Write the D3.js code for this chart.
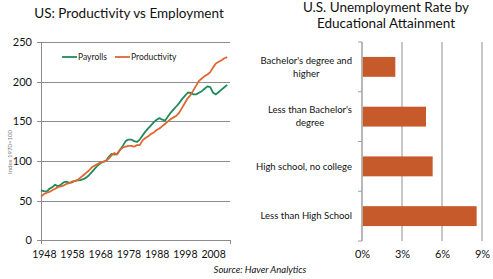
<!DOCTYPE html>
<html><head><meta charset="utf-8">
<script src="https://cdn.jsdelivr.net/npm/d3@7"></script>
<style>
html,body{margin:0;padding:0;background:#fff;}
svg{display:block;font-family:Lato,"Open Sans",sans-serif;}
</style></head>
<body>
<svg id="c" width="493" height="279"></svg>
<script>
// ---- Data: left chart ----
const years = d3.range(1947, 2014);
const payrolls = [63,62,61.5,65,67,70,68,70,73,74,72.5,73,75,75.5,76,77,79,82,86,90,94,97,99,100,105,109,108,109,114,119,125,127,127,125,124,127,132,137,141,145,149,152,154,152,151,156,161,165,169,173,178,182,186,186,184,184,186,188,191,194,193,186,184,187,190,193,196];
const productivity = [55,58,60,61,63,65,67,68,69,71,72,74,75,76,79,82,85,88,92,94,96,98,99,100,103,107,110,108,114,117,118,119,119,118,120,120,126,129,131,134,136,139,141,144,147,150,153,155,157,161,167,173,179,183,189,195,201,204,207,209,212,218,223,225,227,229.5,231];
const yTicks = [0,50,100,150,200,250];
const xTickYears = [1948,1958,1968,1978,1988,1998,2008];
const seriesNames = ["Payrolls","Productivity"];
const seriesColors = ["#1f8a5b","#e0662f"];

// ---- Data: right chart ----
const categories = [["Bachelor's degree and","higher"],["Less than Bachelor's","degree"],["High school, no college"],["Less than High School"]];
const rates = [2.5, 4.8, 5.3, 8.6];
const rateTicks = [0,3,6,9];

const svg = d3.select("#c");

// ===== Left chart =====
svg.append("text").attr("x",129).attr("y",17.5).attr("text-anchor","middle")
  .attr("font-size",13.5).attr("fill","#111").text("US: Productivity vs Employment");

const x = d3.scaleLinear().domain([1947,2014]).range([41,230]);
const y = d3.scaleLinear().domain([0,250]).range([240.3,42]);

const gl = svg.append("g");
gl.selectAll("line.grid").data(yTicks).join("line")
  .attr("x1",37).attr("x2",230).attr("y1",d=>Math.round(y(d))+0.5).attr("y2",d=>Math.round(y(d))+0.5)
  .attr("stroke","#8c8c8c").attr("stroke-width",1);
gl.append("line").attr("x1",41.5).attr("x2",41.5).attr("y1",42).attr("y2",244).attr("stroke","#8c8c8c");
gl.append("line").attr("x1",230.5).attr("x2",230.5).attr("y1",240).attr("y2",244).attr("stroke","#8c8c8c");

const yAxis = d3.axisLeft(y).tickValues(yTicks).tickSize(0).tickPadding(0);
const ya = svg.append("g").attr("transform","translate(32,0)").call(yAxis);
ya.select(".domain").remove();
ya.selectAll("text").attr("font-size",11).attr("fill","#111").attr("font-family","Lato,sans-serif");

const xAxis = d3.axisBottom(x).tickValues(xTickYears).tickFormat(d3.format("d")).tickSize(0).tickPadding(0);
const xa = svg.append("g").attr("transform","translate(0,251)").call(xAxis);
xa.select(".domain").remove();
xa.selectAll("text").attr("font-size",10.5).attr("fill","#111").attr("font-family","Lato,sans-serif");

svg.append("text").attr("transform","translate(11.5,152) rotate(-90)").attr("text-anchor","middle")
  .attr("font-size",6).attr("fill","#777").text("Index 1970=100");

const line = d3.line().x((d,i)=>x(years[i])).y(d=>y(d));
[payrolls, productivity].forEach((s,k)=>{
  svg.append("path").datum(s).attr("d",line).attr("fill","none")
    .attr("stroke",seriesColors[k]).attr("stroke-width",1.8).attr("stroke-linejoin","round");
});

// legend
const legX = [62,115];
seriesNames.forEach((n,k)=>{
  svg.append("line").attr("x1",legX[k]).attr("x2",legX[k]+15).attr("y1",57).attr("y2",57)
    .attr("stroke",seriesColors[k]).attr("stroke-width",1.8);
  svg.append("text").attr("x",legX[k]+16).attr("y",60).attr("font-size",8.5).attr("fill","#222").text(n);
});

svg.append("text").attr("x",260).attr("y",273).attr("text-anchor","middle")
  .attr("font-size",9.5).attr("font-style","italic").attr("fill","#111").text("Source: Haver Analytics");

// ===== Right chart =====
svg.append("text").attr("x",386).attr("y",12).attr("text-anchor","middle")
  .attr("font-size",13.5).attr("fill","#111").text("U.S. Unemployment Rate by");
svg.append("text").attr("x",386).attr("y",28).attr("text-anchor","middle")
  .attr("font-size",13.5).attr("fill","#111").text("Educational Attainment");

const xr = d3.scaleLinear().domain([0,9]).range([362,482]);
const yr = d3.scaleBand().domain(d3.range(categories.length)).range([42,241]).paddingInner(0.6).paddingOuter(0.3);

const gr = svg.append("g");
gr.selectAll("line.vg").data(rateTicks.slice(1)).join("line")
  .attr("x1",d=>xr(d)).attr("x2",d=>xr(d)).attr("y1",42).attr("y2",241)
  .attr("stroke","#b5b5b5").attr("stroke-width",1.5);
gr.append("line").attr("x1",xr(0)).attr("x2",xr(0)).attr("y1",42).attr("y2",241)
  .attr("stroke","#a0a0a0").attr("stroke-width",1.5);
const bounds = d3.range(categories.length+1).map(i=>42 + i*(241-42)/categories.length);
gr.selectAll("line.tk").data(bounds).join("line")
  .attr("x1",358).attr("x2",362).attr("y1",d=>d).attr("y2",d=>d)
  .attr("stroke","#a0a0a0").attr("stroke-width",1);

svg.selectAll("rect.bar").data(rates).join("rect")
  .attr("x",xr(0)+0.8).attr("y",(d,i)=>yr(i)).attr("width",d=>xr(d)-xr(0)-0.8).attr("height",yr.bandwidth())
  .attr("fill","#c75a2a");

const xra = d3.axisBottom(xr).tickValues(rateTicks).tickFormat(d=>d+"%").tickSize(0).tickPadding(0);
const xrg = svg.append("g").attr("transform","translate(0,250)").call(xra);
xrg.select(".domain").remove();
xrg.selectAll("text").attr("font-size",11).attr("fill","#111").attr("font-family","Lato,sans-serif");

categories.forEach((lines,i)=>{
  const cy = yr(i)+yr.bandwidth()/2;
  const g = svg.append("g");
  const n = lines.length;
  const ts = lines.map((t,j)=>g.append("text").attr("font-size",9.5).attr("fill","#111")
    .attr("y",cy + (j-(n-1)/2)*13 + 3.3).text(t));
  const maxw = d3.max(ts, t=>t.node().getComputedTextLength());
  const cx = 352 - maxw/2;
  ts.forEach(t=>t.attr("x",cx).attr("text-anchor","middle"));
});
</script>
</body></html>
